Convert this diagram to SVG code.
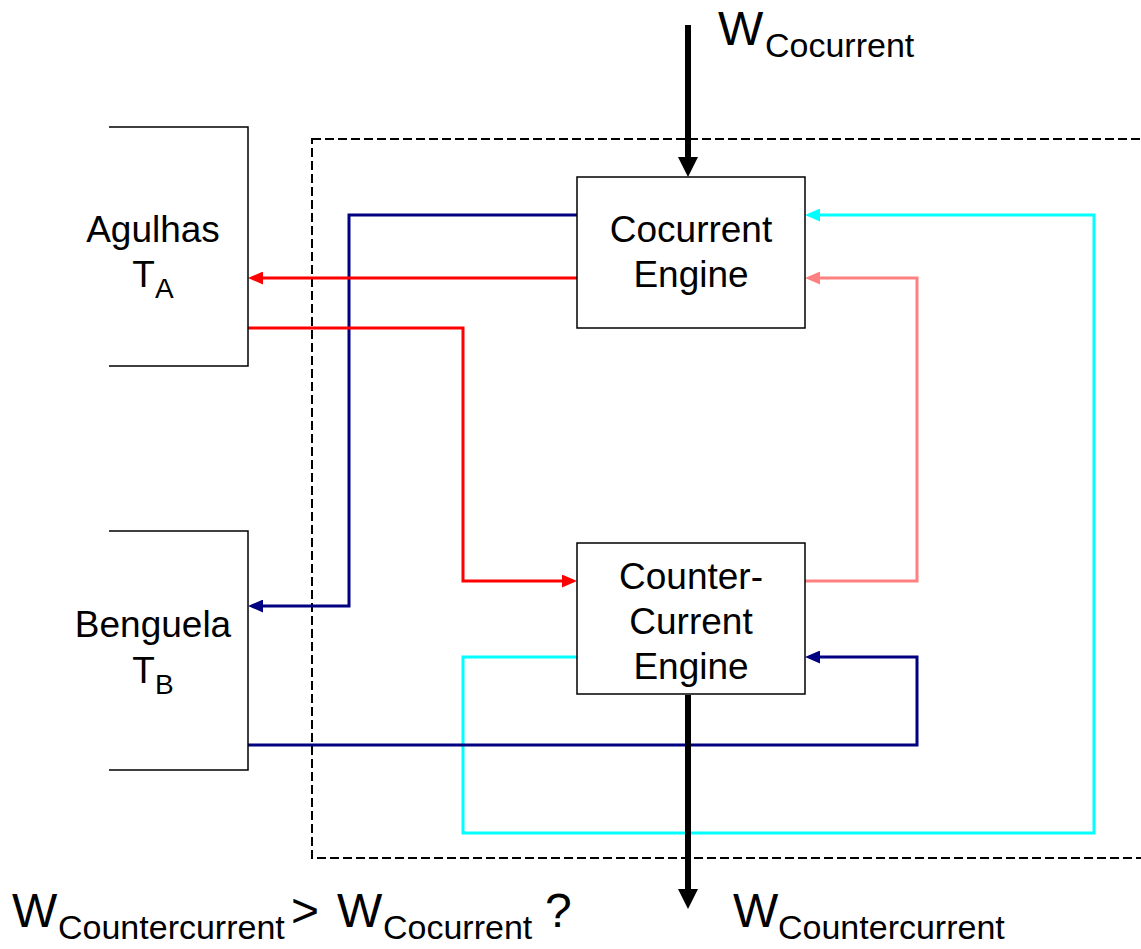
<svg xmlns="http://www.w3.org/2000/svg" width="1141" height="949" viewBox="0 0 1141 949">
<style>
text{font-family:"Liberation Sans",Arial,sans-serif;fill:#000}
.lbl{font-size:37px;text-anchor:middle}
.big{font-size:48px}
.sub{font-size:34px}
.box{fill:#fff;stroke:#000;stroke-width:1.5}
.br{fill:none;stroke:#000;stroke-width:1.5}
.c{fill:none;stroke-width:3;stroke-linejoin:miter}
</style>
<defs>
<marker id="aRed" markerUnits="userSpaceOnUse" markerWidth="15" markerHeight="13" refX="11" refY="6.5" orient="auto"><path d="M0,0 L15,6.5 L0,13 z" fill="#ff0000"/></marker>
<marker id="aNavy" markerUnits="userSpaceOnUse" markerWidth="15" markerHeight="13" refX="11" refY="6.5" orient="auto"><path d="M0,0 L15,6.5 L0,13 z" fill="#000080"/></marker>
<marker id="aSal" markerUnits="userSpaceOnUse" markerWidth="15" markerHeight="13" refX="11" refY="6.5" orient="auto"><path d="M0,0 L15,6.5 L0,13 z" fill="#ff8080"/></marker>
<marker id="aCyan" markerUnits="userSpaceOnUse" markerWidth="15" markerHeight="13" refX="11" refY="6.5" orient="auto"><path d="M0,0 L15,6.5 L0,13 z" fill="#00ffff"/></marker>
<marker id="aBlk" markerUnits="userSpaceOnUse" markerWidth="20" markerHeight="20" refX="14" refY="10" orient="auto"><path d="M0,0 L20,10 L0,20 z" fill="#000"/></marker>
</defs>
<rect width="1141" height="949" fill="#fff"/>

<g id="system-boundary">
<rect x="312" y="139" width="850" height="719" fill="none" stroke="#000" stroke-width="2" stroke-dasharray="9,4"/>
</g>

<g id="connectors">
<path class="c" stroke="#000080" d="M577,215 H349 V606 H252" marker-end="url(#aNavy)"/>
<path class="c" stroke="#ff0000" d="M577,278 H252" marker-end="url(#aRed)"/>
<path class="c" stroke="#ff0000" d="M248,328 H463 V581 H573" marker-end="url(#aRed)"/>
<path class="c" stroke="#ff8080" d="M805,581 H917 V278 H809" marker-end="url(#aSal)"/>
<path class="c" stroke="#00ffff" d="M577,657 H463 V833 H1094 V215 H809" marker-end="url(#aCyan)"/>
<path class="c" stroke="#000080" d="M248,745 H917 V657 H809" marker-end="url(#aNavy)"/>
<path fill="none" stroke="#000" stroke-width="6" d="M688,25 V171" marker-end="url(#aBlk)"/>
<path fill="none" stroke="#000" stroke-width="6" d="M688,695 V903" marker-end="url(#aBlk)"/>
</g>

<g id="agulhas">
<path class="br" d="M109,127 H248 V366 H109"/>
<text class="lbl" x="153" y="242">Agulhas</text>
<text class="lbl" x="153" y="287">T<tspan font-size="28" dy="11">A</tspan></text>
</g>

<g id="benguela">
<path class="br" d="M109,531 H248 V770 H109"/>
<text class="lbl" x="153" y="637">Benguela</text>
<text class="lbl" x="153" y="683">T<tspan font-size="28" dy="11">B</tspan></text>
</g>

<g id="cocurrent-engine">
<rect class="box" x="577" y="177" width="228" height="151"/>
<text class="lbl" x="691" y="242">Cocurrent</text>
<text class="lbl" x="691" y="287">Engine</text>
</g>

<g id="countercurrent-engine">
<rect class="box" x="577" y="543" width="228" height="151"/>
<text class="lbl" x="691" y="589">Counter-</text>
<text class="lbl" x="691" y="634">Current</text>
<text class="lbl" x="691" y="679">Engine</text>
</g>

<g id="w-cocurrent">
<text class="big" x="718" y="45">W</text>
<text class="sub" x="765" y="57">Cocurrent</text>
</g>

<g id="w-countercurrent">
<text class="big" x="733" y="927">W</text>
<text class="sub" x="778" y="939">Countercurrent</text>
</g>

<g id="question">
<text class="big" x="12" y="927">W</text>
<text class="sub" x="58" y="939">Countercurrent</text>
<text class="big" x="291" y="927">&gt;</text>
<text class="big" x="337" y="927">W</text>
<text class="sub" x="383" y="939">Cocurrent</text>
<text class="big" x="545" y="927">?</text>
</g>
</svg>
